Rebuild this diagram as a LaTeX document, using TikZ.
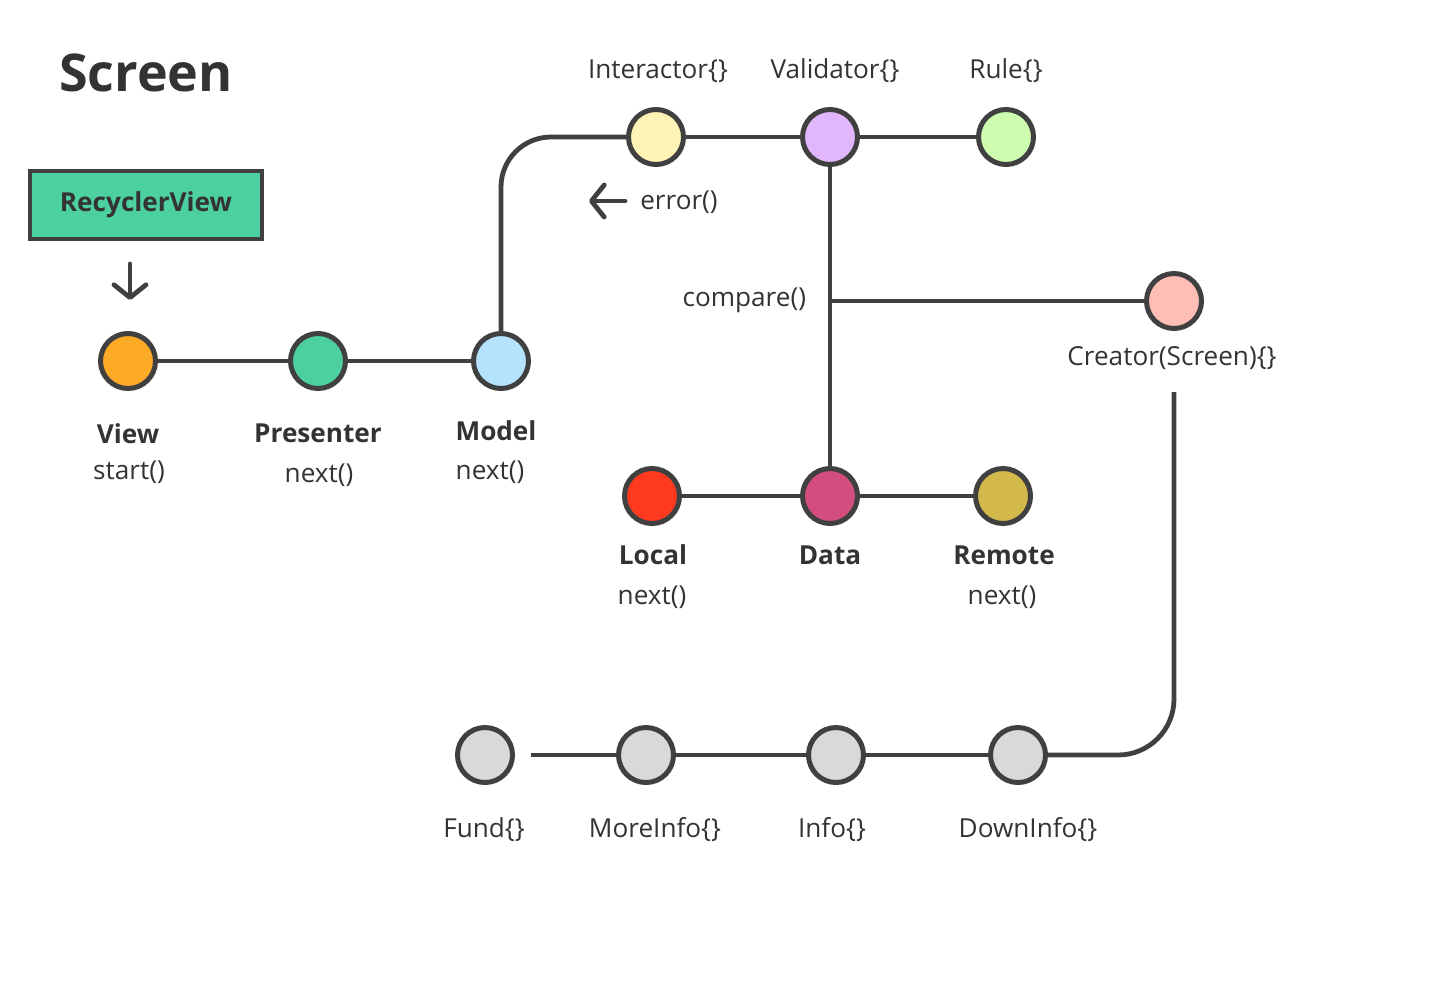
\documentclass[tikz,border=0pt]{standalone}
\usepackage{fontspec}
\setmainfont{Open Sans}
\usetikzlibrary{arrows.meta}
\definecolor{ink}{HTML}{404040}
\definecolor{txt}{HTML}{333333}
\definecolor{cview}{HTML}{FDAA27}
\definecolor{cpres}{HTML}{4DD0A0}
\definecolor{cmodel}{HTML}{B5E2FD}
\definecolor{cinter}{HTML}{FFF3B5}
\definecolor{cvalid}{HTML}{E1B6FC}
\definecolor{crule}{HTML}{CFFDB0}
\definecolor{ccreat}{HTML}{FFBEB5}
\definecolor{clocal}{HTML}{FF3A1E}
\definecolor{cdata}{HTML}{D44D7F}
\definecolor{cremote}{HTML}{D3B84B}
\definecolor{cgrey}{HTML}{D9D9D9}

\begin{document}
\begin{tikzpicture}[x=0.25mm,y=-0.25mm,
  dot/.style={circle,draw=ink,line width=1.25mm,minimum size=13.75mm,inner sep=0pt},
  lbl/.style={text=txt,font=\fontsize{18.6}{22}\selectfont},
  blbl/.style={text=txt,font=\fontsize{18.6}{22}\selectfont\bfseries},
  wire/.style={draw=ink,line width=1.2mm},
  hint/.style={draw=ink,line width=1.2mm,line cap=round,-{Straight Barb[length=3.2mm,width=8mm,round]}}]
\useasboundingbox (0,0) rectangle (1438,1000);

\node[text=txt,font=\fontsize{37}{44}\selectfont\bfseries] (title) at (146,73) {Screen};
\node[draw=ink,fill=cpres,line width=1.1mm,minimum width=58mm,minimum height=17mm,blbl] (recycler) at (146,205) {RecyclerView};
\coordinate (rv-top) at (130,264);
\coordinate (rv-tip) at (130,300);
\draw[hint] (rv-top) -- (rv-tip);

\begin{scope}[every node/.style={dot}]
\node[fill=cview] (view) at (128,361) {};
\node[fill=cpres] (pres) at (318,361) {};
\node[fill=cmodel] (model) at (501,361) {};

\node[fill=cinter] (inter) at (656,137) {};
\node[fill=cvalid] (valid) at (830,137) {};
\node[fill=crule] (rule) at (1006,137) {};

\node[fill=ccreat] (creat) at (1174,301) {};

\node[fill=clocal] (local) at (652,496) {};
\node[fill=cdata] (data) at (830,496) {};
\node[fill=cremote] (remote) at (1003,496) {};

\node[fill=cgrey] (fund) at (485,755) {};
\node[fill=cgrey] (more) at (646,755) {};
\node[fill=cgrey] (info) at (836,755) {};
\node[fill=cgrey] (down) at (1018,755) {};
\end{scope}

% first row
\draw[wire] (view) -- (pres);
\draw[wire] (pres) -- (model);
\draw[wire,rounded corners=12.5mm] (model) |- (inter);

% top row
\draw[wire] (inter) -- (valid);
\draw[wire] (valid) -- (rule);
\draw[wire] (valid) -- (data);
\coordinate (fork) at (830,301);
\draw[wire] (fork) -- (creat);

% data row
\draw[wire] (local) -- (data);
\draw[wire] (data) -- (remote);

% bottom row
\coordinate (creat-tail) at (1174,392);
\draw[wire,rounded corners=14mm] (creat-tail) |- (down);
\coordinate (fund-gap) at (531,755);
\draw[wire] (fund-gap) -- (more);
\draw[wire] (more) -- (info);
\draw[wire] (info) -- (down);

\coordinate (err-tail) at (625,201);
\coordinate (err-tip) at (589,201);
\draw[hint] (err-tail) -- (err-tip);

% labels
\node[blbl] (view-name) at (128,434) {View};
\node[lbl] (view-call) at (129,472) {start()};
\node[blbl] (pres-name) at (318,433) {Presenter};
\node[lbl] (pres-call) at (319,475) {next()};
\node[blbl] (model-name) at (496,431) {Model};
\node[lbl] (model-call) at (490,472) {next()};

\node[lbl] (inter-name) at (658,71) {Interactor\{\}};
\node[lbl] (valid-name) at (835,71) {Validator\{\}};
\node[lbl] (rule-name) at (1006,71) {Rule\{\}};
\node[lbl] (err-name) at (679,202) {error()};
\node[lbl,anchor=east] (cmp-name) at (811,300) {compare()};
\node[lbl] (creat-name) at (1172,358) {Creator(Screen)\{\}};

\node[blbl] (local-name) at (653,555) {Local};
\node[lbl] (local-call) at (652,597) {next()};
\node[blbl] (data-name) at (830,555) {Data};
\node[blbl] (remote-name) at (1004,555) {Remote};
\node[lbl] (remote-call) at (1002,597) {next()};

\node[lbl] (fund-name) at (484,830) {Fund\{\}};
\node[lbl] (more-name) at (655,830) {MoreInfo\{\}};
\node[lbl] (info-name) at (832,830) {Info\{\}};
\node[lbl] (down-name) at (1028,830) {DownInfo\{\}};
\end{tikzpicture}
\end{document}
